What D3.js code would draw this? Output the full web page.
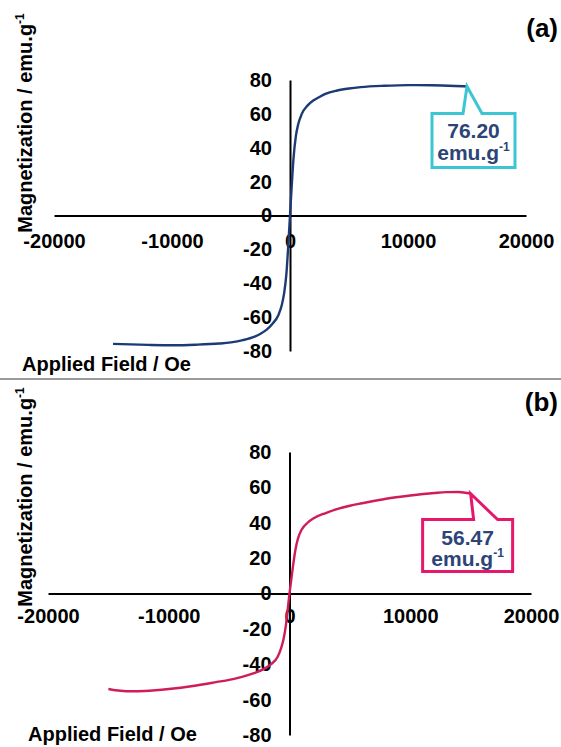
<!DOCTYPE html>
<html>
<head>
<meta charset="utf-8">
<script src="https://cdn.jsdelivr.net/npm/d3@7"></script>
<style>
  html, body { margin: 0; padding: 0; background: #fff; }
  svg { display: block; }
  text { font-family: "Liberation Sans", Arial, sans-serif; font-weight: bold; }
</style>
</head>
<body>
<svg id="chart" width="561" height="747"></svg>
<script>
// Hysteresis loop of sample (a): applied field (Oe) and magnetization (emu/g)
const fieldA = [-15000, -12000, -10000, -8000, -6000, -5000, -4000, -3000, -2500, -2000, -1500,
  -1000, -700, -500, -300, -150, 0, 150, 300, 500, 700, 1000, 1500, 2000, 2500, 3000,
  4000, 5000, 6000, 8000, 10000, 12000, 14000, 15000];
const magA = [-75.8, -76.4, -76.6, -76.3, -75.6, -74.9, -73.6, -71.5, -69.8, -67.5, -64,
  -59, -53, -46, -34, -18, 0, 18, 34, 47, 54, 60, 65, 68, 70, 71.8,
  73.8, 75, 75.8, 76.6, 77, 76.9, 76.5, 76.2];

// Hysteresis loop of sample (b)
const fieldB = [-15000, -14000, -13000, -12000, -10000, -8000, -6000, -5000, -4000, -3000,
  -2000, -1500, -1000, -700, -500, -300, -150, 0, 150, 300, 500, 700, 1000, 1500,
  2000, 3000, 4000, 5000, 6000, 8000, 10000, 12000, 13000, 14000, 15000];
const magB = [-54, -55, -55.3, -55.1, -54, -52.3, -50, -48.8, -47.3, -45.2,
  -42.2, -39.8, -36, -31, -26, -18, -9, 0, 8, 16, 25, 31, 36, 40,
  42.5, 45.5, 47.8, 49.6, 51, 53.6, 55.4, 56.8, 57.3, 57.4, 56.47];

const xTicks = [-20000, -10000, 0, 10000, 20000];
const yTicks = [-80, -60, -40, -20, 0, 20, 40, 60, 80];
const xTitle = "Applied Field / Oe";
const yTitle = "Magnetization / emu.g";
const unitSup = "-1";
const panelLabels = ["(a)", "(b)"];
const saturation = [76.20, 56.47];
const saturationField = [15000, 15000];

const svg = d3.select("#chart");
const plain = d => String(d); // hyphen-minus for negative labels

// separator between the two panels
svg.append("line")
  .attr("x1", 0).attr("x2", 561).attr("y1", 379).attr("y2", 379)
  .attr("stroke", "#9a9a9a").attr("stroke-width", 2);

const panels = [
  { field: fieldA, mag: magA, xr: [54, 526], yr: [351, 80], color: "#1c3a73",
    boxColor: "#3cc6d3", label: panelLabels[0], labelBase: 37, xPad: 18,
    yTitleY: 123, xTitleX: 22, xTitleBase: 371, value: saturation[0], vField: saturationField[0],
    box: { l: -35, r: 48, t: 27, b: 81, p0: -4, p1: 15 }, text1: 25, text2: 47 },
  { field: fieldB, mag: magB, xr: [48, 531], yr: [735, 452], color: "#cf1c5d",
    boxColor: "#e5186b", label: panelLabels[1], labelBase: 411, xPad: 15,
    yTitleY: 497, xTitleX: 28, xTitleBase: 741, value: saturation[1], vField: saturationField[1],
    box: { l: -48, r: 42, t: 26, b: 78, p0: 3, p1: 27 }, text1: 25, text2: 46 }
];

panels.forEach(p => {
  const x = d3.scaleLinear().domain([-20000, 20000]).range(p.xr);
  const y = d3.scaleLinear().domain([-80, 80]).range(p.yr);
  const g = svg.append("g");

  // x axis through M = 0
  const xAxis = g.append("g")
    .attr("transform", `translate(0,${y(0)})`)
    .call(d3.axisBottom(x).tickValues(xTicks).tickSize(0).tickPadding(p.xPad)
      .tickFormat(plain));
  xAxis.select(".domain").attr("stroke", "#000").attr("stroke-width", 2);
  xAxis.selectAll("text").attr("font-size", 20).attr("fill", "#000")
    .attr("font-family", "Liberation Sans, Arial, sans-serif");

  // y axis through H = 0
  const yAxis = g.append("g")
    .attr("transform", `translate(${x(0)},0)`)
    .call(d3.axisLeft(y).tickValues(yTicks).tickSize(0).tickPadding(18)
      .tickFormat(plain));
  yAxis.select(".domain").attr("stroke", "#000").attr("stroke-width", 2);
  yAxis.selectAll("text").attr("font-size", 20).attr("fill", "#000")
    .attr("font-family", "Liberation Sans, Arial, sans-serif");

  // magnetization curve
  const pts = p.field.map((f, i) => [f, p.mag[i]]);
  g.append("path")
    .datum(pts)
    .attr("fill", "none")
    .attr("stroke", p.color)
    .attr("stroke-width", 2.4)
    .attr("d", d3.line().x(d => x(d[0])).y(d => y(d[1])).curve(d3.curveMonotoneX));

  // callout with the saturation magnetization
  const tx = x(p.vField), ty = y(p.value);
  const b = p.box;
  const L = tx + b.l, R = tx + b.r, T = ty + b.t, B = ty + b.b;
  const shape = [[L, T], [tx + b.p0, T], [tx, ty], [tx + b.p1, T], [R, T], [R, B], [L, B]];
  g.append("path")
    .attr("d", d3.line()(shape) + "Z")
    .attr("fill", "#fff")
    .attr("stroke", p.boxColor)
    .attr("stroke-width", 3)
    .attr("stroke-linejoin", "miter");
  const cx = (L + R) / 2;
  g.append("text")
    .attr("x", cx).attr("y", T + p.text1)
    .attr("text-anchor", "middle").attr("font-size", 21).attr("fill", "#2c4477")
    .text(p.value.toFixed(2));
  const t2 = g.append("text")
    .attr("x", cx).attr("y", T + p.text2)
    .attr("text-anchor", "middle").attr("font-size", 21).attr("fill", "#2c4477");
  t2.append("tspan").text("emu.g");
  t2.append("tspan").attr("font-size", 12).attr("dy", -9).text(unitSup);

  // panel label
  g.append("text")
    .attr("x", 558).attr("y", p.labelBase)
    .attr("text-anchor", "end").attr("font-size", 26).attr("fill", "#000")
    .text(p.label);

  // axis titles
  const yt = g.append("text")
    .attr("transform", `translate(32,${p.yTitleY}) rotate(-90)`)
    .attr("text-anchor", "middle").attr("font-size", 20).attr("fill", "#000");
  yt.append("tspan").text(yTitle);
  yt.append("tspan").attr("font-size", 12).attr("dy", -8).text(unitSup);

  g.append("text")
    .attr("x", p.xTitleX).attr("y", p.xTitleBase)
    .attr("font-size", 20).attr("fill", "#000")
    .text(xTitle);
});
</script>
</body>
</html>
